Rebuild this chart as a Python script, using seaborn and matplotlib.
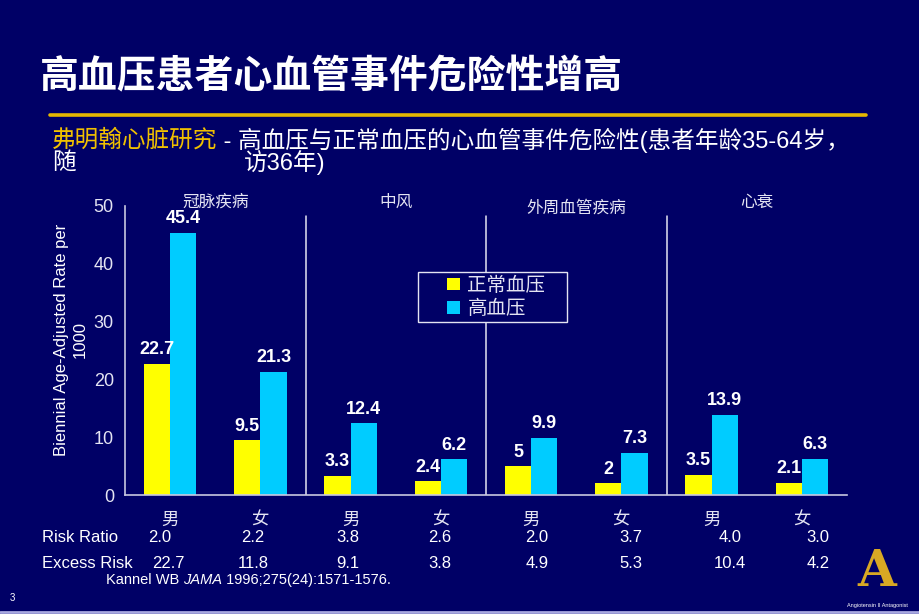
import matplotlib
matplotlib.use('Agg')
import matplotlib.pyplot as plt
from matplotlib.lines import Line2D
from matplotlib.patches import Rectangle
import seaborn as sns
import pandas as pd

# ---------------- data ----------------
diseases = ['冠脉疾病', '中风', '外周血管疾病', '心衰']
sexes = ['男', '女']
bp_groups = ['正常血压', '高血压']
normal_bp = [22.7, 9.5, 3.3, 2.4, 5, 2, 3.5, 2.1]
high_bp = [45.4, 21.3, 12.4, 6.2, 9.9, 7.3, 13.9, 6.3]
normal_labels = ['22.7', '9.5', '3.3', '2.4', '5', '2', '3.5', '2.1']
high_labels = ['45.4', '21.3', '12.4', '6.2', '9.9', '7.3', '13.9', '6.3']
risk_ratio = ['2.0', '2.2', '3.8', '2.6', '2.0', '3.7', '4.0', '3.0']
excess_risk = ['22.7', '11.8', '9.1', '3.8', '4.9', '5.3', '10.4', '4.2']
yticks = [0, 10, 20, 30, 40, 50]

title = '高血压患者心血管事件危险性增高'
subtitle_gold = '弗明翰心脏研究'
subtitle_white = ' - 高血压与正常血压的心血管事件危险性(患者年龄35-64岁，'
subtitle_l2a = '随'
subtitle_l2b = '访36年)'
ylabel = 'Biennial Age-Adjusted Rate per\n1000'

# ---------------- style ----------------
BG = '#000066'
YELLOW = '#FFFF00'
CYAN = '#00CCFF'
GOLD = '#E6B800'
LIGHT = '#E4E4F2'
SPINE = '#C8C8E0'

sns.set_theme(style='white')
plt.rcParams['font.family'] = ['Liberation Sans', 'Noto Sans CJK SC', 'DejaVu Sans']
plt.rcParams['axes.unicode_minus'] = False

W, H = 920, 614
fig = plt.figure(figsize=(W / 100, H / 100), dpi=100, facecolor=BG)

def fx(px):
    return px / W

def fy(py):
    return 1 - py / H

ax = fig.add_axes([fx(125), fy(495), fx(847) - fx(125), fy(206) - fy(495)])
ax.set_facecolor(BG)

slots = [f'{d}-{s}' for d in diseases for s in sexes]
df = pd.DataFrame({
    'slot': slots * 2,
    'value': normal_bp + high_bp,
    'group': [bp_groups[0]] * len(slots) + [bp_groups[1]] * len(slots),
})

sns.barplot(data=df, x='slot', y='value', hue='group', order=slots,
            hue_order=bp_groups, palette=[YELLOW, CYAN], width=0.58,
            saturation=1, ax=ax, legend=True, linewidth=0, errorbar=None)

for cont, labs in zip(ax.containers, [normal_labels, high_labels]):
    ax.bar_label(cont, labels=labs, padding=4, color='white',
                 fontsize=13, fontweight='bold', family='Liberation Sans')

ax.set_xlim(-0.5, len(slots) - 0.5)
ax.set_ylim(0, 50)
ax.set_xticks([i - 0.5 for i in range(len(slots) + 1)])
ax.set_xticklabels([])
ax.set_yticks(yticks)
ax.set_yticklabels([str(t) for t in yticks])
ax.set_xlabel('')
ax.set_ylabel('')
for s in ['top', 'right']:
    ax.spines[s].set_visible(False)
for s in ['left', 'bottom']:
    ax.spines[s].set_color(SPINE)
    ax.spines[s].set_linewidth(1.2)
ax.tick_params(axis='both', which='major', direction='out', length=5,
               width=1.2, color=SPINE, colors=LIGHT, labelsize=13, pad=3)
ax.tick_params(axis='x', length=6)

# separators between disease groups
for b in [1.5, 3.5, 5.5]:
    ax.plot([b, b], [0, 48.2], color=LIGHT, lw=1.1, zorder=1)

# disease titles
cat_y = [50.6, 50.6, 49.6, 50.6]
for i, d in enumerate(diseases):
    ax.text(2 * i + 0.5, cat_y[i], d, ha='center', va='center',
            color=LIGHT, fontsize=12, family=['Noto Sans CJK SC'],
            fontweight='light')

# legend: box drawn in the figure, legend placed inside it
handles, labels = ax.get_legend_handles_labels()
ax.get_legend().remove()
fig.add_artist(Rectangle((fx(418), fy(322)), fx(567) - fx(418), fy(272) - fy(322),
                         transform=fig.transFigure, facecolor=BG,
                         edgecolor=LIGHT, lw=1.0, zorder=5))
leg = fig.legend(handles, labels, loc='center left',
                 bbox_to_anchor=(fx(447), fy(297)),
                 bbox_transform=fig.transFigure, frameon=False,
                 fontsize=14, handlelength=0.65, handleheight=0.65,
                 handletextpad=0.4, borderpad=0, labelspacing=0.12,
                 borderaxespad=0)
leg.set_zorder(6)
for t in leg.get_texts():
    t.set_color(LIGHT)
    t.set_family(['Noto Sans CJK SC'])
    t.set_fontweight('light')

# y label
fig.text(fx(71), fy(340), ylabel, rotation=90, ha='center', va='center',
         multialignment='center', color='white', fontsize=12,
         family='Liberation Sans', linespacing=1.25)

# title, rule and subtitle
fig.text(fx(40), fy(77), title, ha='left', va='center', color='white',
         fontsize=28, fontweight='bold', family=['Noto Sans CJK SC'])
fig.add_artist(Line2D([fx(50), fx(866)], [fy(115), fy(115)], color=GOLD, lw=2.6))

t1 = fig.text(fx(52), fy(140), subtitle_gold, ha='left', va='center',
              color='#F0C000', fontsize=17, family=['Noto Sans CJK SC'])
fig.canvas.draw()
r = fig.canvas.get_renderer()
bb = t1.get_window_extent(r)
fig.text(bb.x1 / W, fy(140), subtitle_white, ha='left', va='center',
         color='white', fontsize=17)
fig.text(fx(52), fy(163), subtitle_l2a, ha='left', va='center',
         color='white', fontsize=17)
fig.text(fx(244), fy(163), subtitle_l2b, ha='left', va='center',
         color='white', fontsize=17)

# bottom table
group_px = [170, 260, 351, 441, 531, 621, 712, 802]
rr_px = [160, 253, 348, 440, 537, 631, 730, 818]
for i, s in enumerate(sexes * len(diseases)):
    fig.text(fx(group_px[i]), fy(520), s, ha='center', va='center',
             color=LIGHT, fontsize=12.5, family=['Noto Sans CJK SC'],
             fontweight='light')
fig.text(fx(42), fy(538), 'Risk Ratio', ha='left', va='center',
         color='white', fontsize=12)
fig.text(fx(42), fy(563), 'Excess Risk', ha='left', va='center',
         color='white', fontsize=12)
for i in range(len(slots)):
    fig.text(fx(rr_px[i]), fy(538), risk_ratio[i], ha='center', va='center',
             color='white', fontsize=12)
    xr = rr_px[i] + (8 if i == 0 else 0)
    fig.text(fx(xr), fy(563), excess_risk[i], ha='center', va='center',
             color='white', fontsize=12)

# citation
c1 = fig.text(fx(106), fy(580), 'Kannel WB ', ha='left', va='center',
              color='white', fontsize=10.5)
fig.canvas.draw()
b1 = c1.get_window_extent(r)
c2 = fig.text(b1.x1 / W, fy(580), 'JAMA', ha='left', va='center',
              color='white', fontsize=10.5, style='italic')
fig.canvas.draw()
b2 = c2.get_window_extent(r)
fig.text(b2.x1 / W, fy(580), ' 1996;275(24):1571-1576.', ha='left',
         va='center', color='white', fontsize=10.5)

fig.text(fx(10), fy(598), '3', ha='left', va='center', color='white',
         fontsize=7)

# logo approximation
fig.text(fx(877), fy(586), 'A', ha='center', va='baseline', color='#D8A824',
         fontsize=36, fontweight='bold', family='DejaVu Serif')
fig.text(fx(877), fy(605), 'Angiotensin II Antagonist', ha='center',
         va='center', color='white', fontsize=4)

# bottom rule
fig.add_artist(Line2D([0, 1], [fy(612), fy(612)], color='#A8A8E0', lw=2))

fig.savefig('out.png', dpi=100, facecolor=BG)
